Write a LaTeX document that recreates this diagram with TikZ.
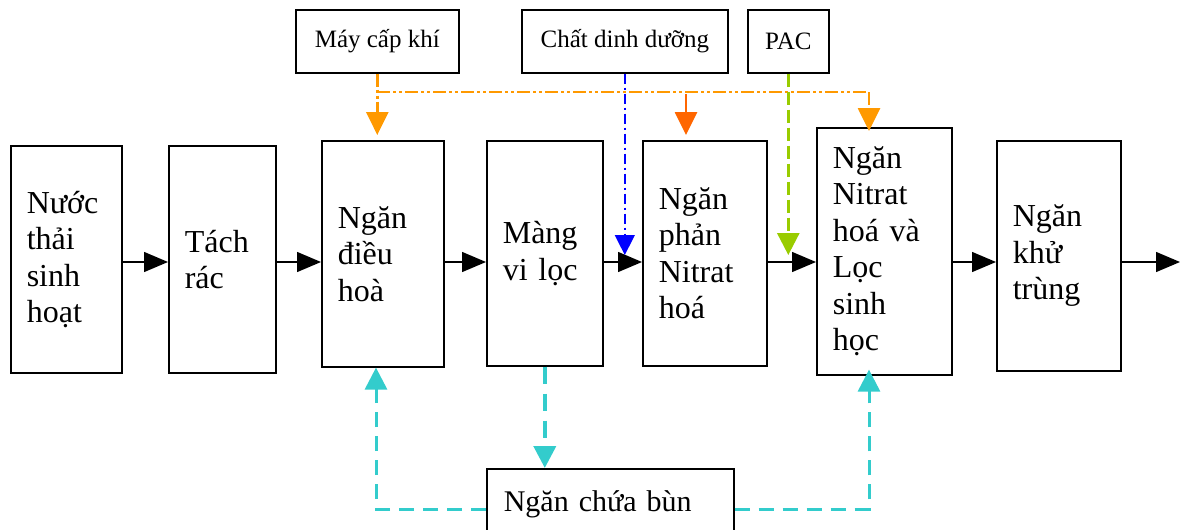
\documentclass[tikz,border=0pt]{standalone}
\usepackage{fontspec}
\setmainfont{Liberation Serif}
\usetikzlibrary{arrows.meta,calc}
\definecolor{orA}{RGB}{255,153,0}
\definecolor{orB}{RGB}{255,102,0}
\definecolor{blA}{RGB}{0,0,255}
\definecolor{grA}{RGB}{153,204,0}
\definecolor{cyA}{RGB}{51,204,204}
\begin{document}
\begin{tikzpicture}[x=1pt,y=-1pt,
  box/.style={draw, line width=1.6pt, inner xsep=16pt, inner ysep=0pt, align=left,
    font=\fontsize{32}{36.5}\selectfont, anchor=north west},
  sbox/.style={draw, line width=1.6pt, inner sep=0pt, align=center,
    font=\fontsize{25}{28}\selectfont, anchor=north west, minimum height=63pt},
  flow/.style={line width=1.4pt, -{Triangle[length=24pt,width=20pt]}},
  orline/.style={orA, line width=2.8pt, dash pattern=on 13pt off 3pt on 3pt off 3pt on 3pt off 3pt},
  otip/.style={-{Triangle[length=23pt,width=22pt]}},
  bline/.style={blA, line width=1.4pt, dash pattern=on 10pt off 4pt on 2pt off 4pt, -{Triangle[length=20pt,width=20pt]}},
  gline/.style={grA, line width=2.8pt, dash pattern=on 13pt off 5pt, -{Triangle[length=22pt,width=22pt]}},
  cline/.style={cyA, line width=3pt, dash pattern=on 15pt off 9pt, -{Triangle[length=22pt,width=22pt]}},
]
\useasboundingbox (0,0) rectangle (1181,530);
% main boxes
\node[box, minimum width=111pt, text width=79pt, minimum height=227pt] (nuoc) at (10,145) {Nước\\thải\\sinh\\hoạt};
\node[box, minimum width=107pt, text width=75pt, minimum height=227pt] (tach) at (168,145) {Tách\\rác};
\node[box, minimum width=122pt, text width=90pt, minimum height=226pt] (dieu) at (321,140) {Ngăn\\điều\\hoà};
\node[box, minimum width=116pt, text width=84pt, minimum height=225pt] (mang) at (486,140) {Màng\\vi lọc};
\node[box, minimum width=124pt, text width=92pt, minimum height=225pt] (phan) at (642,140) {Ngăn\\phản\\Nitrat\\hoá};
\node[box, minimum width=135pt, text width=103pt, minimum height=247pt] (nit) at (816,127) {Ngăn\\Nitrat\\hoá và\\Lọc\\sinh\\học};
\node[box, minimum width=124pt, text width=92pt, minimum height=230pt] (khu) at (996,140) {Ngăn\\khử\\trùng};
\node[box, inner xsep=17pt, minimum width=247pt, text width=213pt, minimum height=72pt,
  font=\fontsize{30}{34}\selectfont] (bun) at (486,468) {Ngăn chứa bùn};
% top boxes
\node[sbox, minimum width=163pt] (may) at (295,9) {Máy cấp khí};
\node[sbox, minimum width=206pt] (chat) at (521,9) {Chất dinh dưỡng};
\node[sbox, minimum width=81pt] (pac) at (747,9) {PAC};
% main flow
\coordinate (fl) at (0,262);
\coordinate (out) at (1180,262);
\draw[flow] (nuoc.east |- fl) -- (tach.west |- fl);
\draw[flow] (tach.east |- fl) -- (dieu.west |- fl);
\draw[flow] (dieu.east |- fl) -- (mang.west |- fl);
\draw[flow] (mang.east |- fl) -- (phan.west |- fl);
\draw[flow] (phan.east |- fl) -- (nit.west |- fl);
\draw[flow] (nit.east |- fl) -- (khu.west |- fl);
\draw[flow] (khu.east |- fl) -- (out);
% air supply
\coordinate (bus) at (0,92);
\coordinate (bR) at (869,92);
\coordinate (bM) at (686,94);
\draw[orline, otip, shorten >=5pt] (may.south) -- (may.south |- dieu.north);
\draw[orline] (may.south |- bus) -- (bR);
\draw[orline, otip, shorten >=-4pt] (bR) -- (bR |- nit.north);
\draw[orB, line width=2.8pt, otip, shorten >=5pt] (bM) -- (bM |- phan.north);
% nutrients and PAC
\coordinate (bt) at (624,255);
\coordinate (gt) at (787,255);
\draw[bline] (chat.south) -- (chat.south |- bt);
\draw[gline] (pac.south) -- (pac.south |- gt);
% sludge
\coordinate (cl) at (376,509);
\coordinate (cr) at (869,509);
\draw[cline, line width=4pt, dash pattern=on 17pt off 10pt] (mang.south) -- (mang.south |- bun.north);
\draw[cline] (bun.west |- cl) -- (cl) -- (cl |- dieu.south);
\draw[cline, shorten >=-6pt] (bun.east |- cr) -- (cr) -- (cr |- nit.south);
\end{tikzpicture}
\end{document}
